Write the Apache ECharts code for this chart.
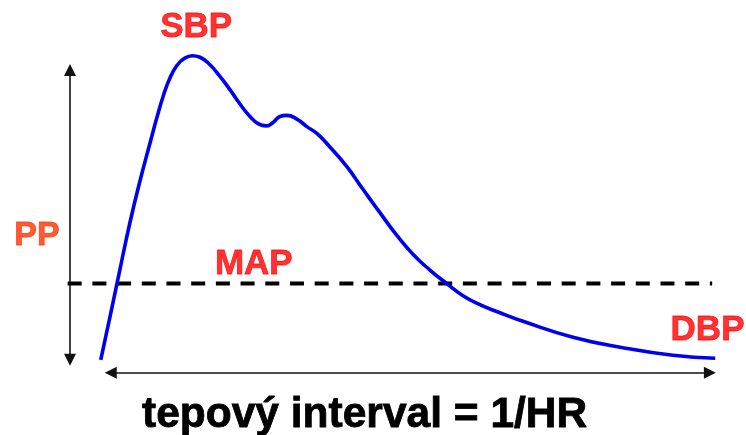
<!DOCTYPE html>
<html>
<head>
<meta charset="utf-8">
<script src="https://cdn.jsdelivr.net/npm/echarts@6/dist/echarts.min.js"></script>
<style>
  html, body { margin: 0; padding: 0; background: #fff; }
  #chart { width: 746px; height: 435px; }
</style>
</head>
<body>
<div id="chart"></div>
<script>
  // cas v ms, tlak v mmHg
  const times = [1, 13, 26, 39, 52, 65, 74, 83, 91, 100, 109, 120, 130, 143, 156, 169, 182, 195,
    205.5, 216.5, 225, 234, 243, 256, 269, 282, 299, 321, 342, 364, 386, 407, 429, 451, 472, 494,
    516, 550, 615, 680, 745, 800];
  const pressure = [79.7, 85.4, 91.7, 97.9, 103.4, 108.4, 111.8, 114.9, 117.05, 118.7, 119.6, 120.0,
    119.8, 118.8, 117.25, 115.5, 113.6, 111.95, 111.0, 110.7, 111.15, 111.95, 112.1, 111.6, 110.6,
    109.7, 107.9, 105.3, 102.3, 99.2, 96.2, 93.7, 91.6, 89.8, 88.2, 87.0, 86.1, 84.8, 82.7, 81.3,
    80.3, 79.9];
  const mapValue = 89.8;
  const mapRange = [-42, 796];
  const ppArrowX = -39;
  const ppArrowRange = [79.7, 118.1];
  const hrArrowY = 78;
  const hrArrowRange = [14, 793];
  const labelNames = ['SBP', 'MAP', 'DBP', 'PP'];
  const labelTimes = [125, 200, 790, -82];
  const labelValues = [123.7, 92.3, 83.6, 96.2];
  const labelColors = ['#ff0000', '#ff0000', '#ff0000', '#ff3300'];
  const axisTitle = 'tepový interval = 1/HR';

  const chart = echarts.init(document.getElementById('chart'));

  const labelData = labelNames.map((n, i) => ({
    value: [labelTimes[i], labelValues[i]],
    name: n,
    itemStyle: { color: labelColors[i] },
    label: {
      color: labelColors[i],
      textBorderColor: labelColors[i],
      textBorderWidth: 0.8,
      fontSize: n === 'PP' ? 34 : 35
    }
  }));

  chart.setOption({
    animation: false,
    title: {
      text: axisTitle,
      left: 137,
      top: 389,
      textStyle: {
        fontFamily: 'Liberation Sans', fontWeight: 'bold', fontSize: 42.5, color: '#000',
        textBorderColor: '#000', textBorderWidth: 0.8
      }
    },
    grid: { left: 0, right: 0, top: 18, bottom: 2 },
    xAxis: { type: 'value', min: -130, max: 840, show: false },
    yAxis: { type: 'value', min: 70, max: 125, show: false },
    series: [
      {
        // MAP - prerusovana cara
        type: 'line',
        data: [[mapRange[0], mapValue], [mapRange[1], mapValue]],
        symbol: 'none',
        silent: true,
        lineStyle: { color: '#000', width: 4, type: [14, 10.7], cap: 'butt' }
      },
      {
        type: 'line',
        data: times.map((t, i) => [t, pressure[i]]),
        smooth: 0.5,
        symbol: 'none',
        silent: true,
        lineStyle: { color: '#0000ee', width: 3.6 }
      },
      {
        // PP sipka
        type: 'line',
        data: [],
        markLine: {
          silent: true,
          symbol: ['triangle', 'triangle'],
          symbolSize: [12, 12],
          label: { show: false },
          lineStyle: { color: '#111', width: 1.6, type: 'solid' },
          data: [[{ coord: [ppArrowX, ppArrowRange[0]] }, { coord: [ppArrowX, ppArrowRange[1]] }]]
        }
      },
      {
        // tepovy interval sipka
        type: 'line',
        data: [],
        markLine: {
          silent: true,
          symbol: ['triangle', 'triangle'],
          symbolSize: [12, 12],
          label: { show: false },
          lineStyle: { color: '#111', width: 1.6, type: 'solid' },
          data: [[{ coord: [hrArrowRange[0], hrArrowY] }, { coord: [hrArrowRange[1], hrArrowY] }]]
        }
      },
      {
        type: 'scatter',
        data: labelData,
        symbolSize: 0,
        clip: false,
        silent: true,
        label: {
          show: true,
          position: [0, 0],
          align: 'center',
          verticalAlign: 'middle',
          formatter: p => p.name,
          fontFamily: 'Liberation Sans',
          fontWeight: 'bold'
        }
      }
    ]
  });
</script>
</body>
</html>
